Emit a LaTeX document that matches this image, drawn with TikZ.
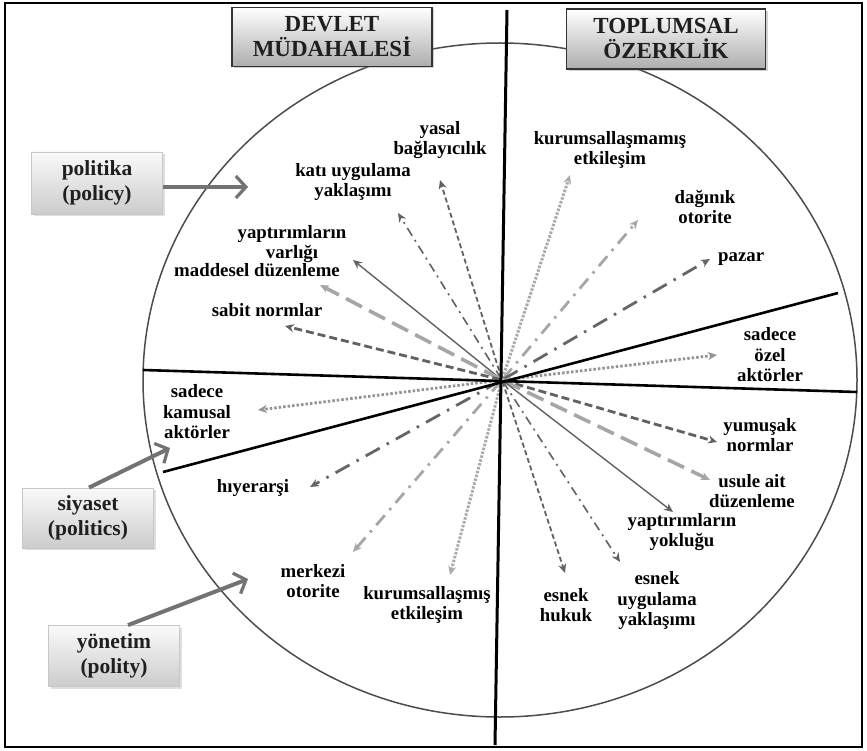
\documentclass[tikz,border=0pt]{standalone}
\usepackage{fontspec}
\setmainfont{Liberation Serif}
\usetikzlibrary{arrows.meta,shadows}
\begin{document}
\begin{tikzpicture}[x=1pt,y=-1pt,
  lbl/.style={font=\fontsize{18.8}{20.5}\selectfont\bfseries, align=center, text=black, inner sep=0pt},
  topbox/.style={draw=black!80, line width=1.2pt, top color=white, bottom color=black!32,
    minimum width=200pt, minimum height=59pt, align=center, inner sep=0pt,
    font=\fontsize{23}{25}\selectfont\bfseries, text=black!88,
    drop shadow={opacity=0.35, shadow xshift=2pt, shadow yshift=-2pt}},
  sidebox/.style={draw=black!22, line width=0.8pt, top color=black!2, bottom color=black!20,
    minimum width=131pt, minimum height=61pt, align=center, inner sep=0pt,
    font=\fontsize{21.5}{25}\selectfont\bfseries, text=black!88,
    drop shadow={opacity=0.25, shadow xshift=2pt, shadow yshift=-2pt}},
  bigarrow/.style={draw=black!55, line width=4pt, -{Straight Barb[length=10pt,width=22pt,line width=3.2pt]}},
  ah/.style={-{Stealth[length=9pt,width=8pt]}, shorten <=2pt},
  sdash/.style={ah, draw=black!62, line width=1.8pt, dash pattern=on 5pt off 3pt},
  mdash/.style={ah, draw=black!62, line width=2.8pt, dash pattern=on 8pt off 4pt},
  ldash/.style={ah, draw=black!35, line width=3.6pt, dash pattern=on 18pt off 8pt},
  thinsolid/.style={ah, draw=black!62, line width=1.4pt},
  ddot/.style={ah, draw=black!62, line width=1.6pt, dash pattern=on 9pt off 5pt on 2pt off 5pt},
  ldot/.style={ah, draw=black!33, line width=3pt, dash pattern=on 2.5pt off 1.5pt},
  lddot/.style={ah, draw=black!35, line width=2.8pt, dash pattern=on 13pt off 7pt on 2.5pt off 7pt},
  dddot/.style={ah, draw=black!60, line width=2.8pt, dash pattern=on 16pt off 8pt on 2.5pt off 8pt},
  gdot/.style={ah, draw=black!42, line width=2.8pt, dash pattern=on 2.5pt off 2pt},
  divider/.style={draw=black, line width=2.6pt}
]
\useasboundingbox (0,0) rectangle (867,751);
\draw[black, line width=1.4pt] (5,3) rectangle (862,747);

% circle
\draw[black!70, line width=1.5pt] (500,380) ellipse [x radius=357, y radius=337];

% dividing lines
\coordinate (c) at (502,380);
\coordinate (vt) at (507,10);
\coordinate (vb) at (495,745);
\coordinate (al) at (143,370);
\coordinate (ar) at (857,392);
\coordinate (bl) at (163,472);
\coordinate (br) at (838,293);

% labels
\node[lbl] (yasal) at (440,140) {yasal\\bağlayıcılık};
\node[lbl] (kati) at (353,182) {katı uygulama\\yaklaşımı};
\node[lbl] (varlik) at (292,244) {yaptırımların\\varlığı};
\node[lbl] (madde) at (257,270) {maddesel düzenleme};
\node[lbl] (sabit) at (267,310) {sabit normlar};
\node[lbl] (kmamis) at (610,150) {kurumsallaşmamış\\etkileşim};
\node[lbl] (dagin) at (705,207) {dağınık\\otorite};
\node[lbl, anchor=west] (pazar) at (718,259) {pazar};
\node[lbl] (ozel) at (770,355) {sadece\\özel\\aktörler};
\node[lbl] (kamu) at (197,412) {sadece\\kamusal\\aktörler};
\node[lbl] (hiyer) at (253,488) {hıyerarşi};
\node[lbl] (merk) at (313,581) {merkezi\\otorite};
\node[lbl] (kmis) at (427,605) {kurumsallaşmış\\etkileşim};
\node[lbl] (yumus) at (760,435) {yumuşak\\normlar};
\node[lbl] (usule) at (752,491) {usule ait\\düzenleme};
\node[lbl] (yokluk) at (682,532) {yaptırımların\\yokluğu};
\node[lbl] (esuyg) at (657,601) {esnek\\uygulama\\yaklaşımı};
\node[lbl] (eshuk) at (566,605) {esnek\\hukuk};

% arrow tips
\coordinate (t1) at (440,180);
\coordinate (t2) at (398,213);
\coordinate (t3) at (353,260);
\coordinate (t4) at (320,285);
\coordinate (t5) at (285,326);
\coordinate (t6) at (570,175);
\coordinate (t7) at (638,220);
\coordinate (t8) at (710,259);
\coordinate (t9) at (717,355);
\coordinate (t10) at (258,410);
\coordinate (t11) at (310,487);
\coordinate (t12) at (353,552);
\coordinate (t13) at (450,575);
\coordinate (t14) at (717,442);
\coordinate (t15) at (710,480);
\coordinate (t16) at (673,512);
\coordinate (t17) at (620,562);
\coordinate (t18) at (565,573);

\draw[sdash] (c) -- (t1);
\draw[ddot] (c) -- (t2);
\draw[thinsolid] (c) -- (t3);
\draw[ldash] (c) -- (t4);
\draw[mdash] (c) -- (t5);
\draw[ldot] (c) -- (t6);
\draw[lddot] (c) -- (t7);
\draw[dddot] (c) -- (t8);
\draw[gdot] (c) -- (t9);
\draw[gdot] (c) -- (t10);
\draw[dddot] (c) -- (t11);
\draw[lddot] (c) -- (t12);
\draw[ldot] (c) -- (t13);
\draw[mdash] (c) -- (t14);
\draw[ldash] (c) -- (t15);
\draw[thinsolid] (c) -- (t16);
\draw[ddot] (c) -- (t17);
\draw[sdash] (c) -- (t18);

\draw[divider] (al) -- (ar);
\draw[divider] (bl) -- (br);
\draw[divider, line width=3pt] (vt) -- (vb);

% boxes
\node[topbox] (devlet) at (332,37) {DEVLET\\MÜDAHALESİ};
\node[topbox, minimum width=199pt, minimum height=60pt] (toplum) at (666,39) {TOPLUMSAL\\ÖZERKLİK};
\node[sidebox, minimum height=62pt] (politika) at (97,183) {politika\\(policy)};
\node[sidebox, minimum height=60pt] (siyaset) at (88,518) {siyaset\\(politics)};
\node[sidebox, minimum height=61pt] (yonetim) at (114,656) {yönetim\\(polity)};

\coordinate (p1) at (248,187);
\coordinate (p2) at (170,448);
\coordinate (p3) at (248,579);
\draw[bigarrow] (politika.east |- p1) -- (p1);
\draw[bigarrow] (siyaset.north) ++(1,0) coordinate (s0) (s0) -- (p2);
\draw[bigarrow] (yonetim.north) ++(14,0) coordinate (y0) (y0) -- (p3);
\end{tikzpicture}
\end{document}
